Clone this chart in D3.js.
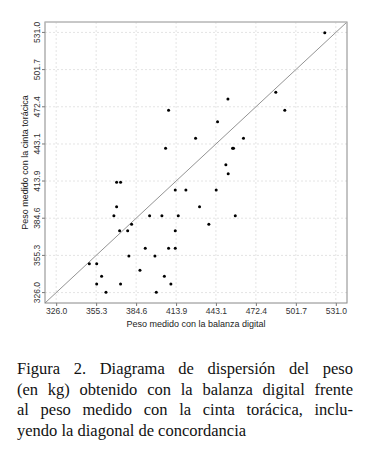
<!DOCTYPE html>
<html>
<head>
<meta charset="utf-8">
<script src="https://cdn.jsdelivr.net/npm/d3@7"></script>
<style>
    body { margin: 0; background: #fff; }
    #chart { position: relative; width: 370px; height: 459px; }
    .caption-line {
        position: absolute;
        left: 17px;
        width: 336px;
        font-family: 'Liberation Serif', 'Times New Roman', serif;
        font-size: 16.5px;
        color: #111;
        white-space: nowrap;
        text-align: justify;
        text-align-last: justify;
    }
    .caption-line.last { text-align-last: left; }
</style>
</head>
<body>
<div id="chart"></div>
<script>
// peso con la balanza digital (eje x) y con la cinta toracica (eje y), kg
let pesoBalanza = [451.9, 408.4, 444.3, 428.2, 463.3, 406.2, 455.3, 456.0, 450.4, 452.1,
    370.3, 373.2, 413.3, 421.1, 443.3, 370.3, 431.1, 368.3, 394.5, 403.5,
    415.5, 457.3, 381.3, 437.9, 372.5, 378.4, 413.3, 391.3, 408.4, 413.3,
    379.3, 398.4, 350.3, 355.7, 387.4, 359.3, 405.3, 355.7, 373.2, 410.1,
    362.5, 399.4, 487.0, 493.6, 522.9];
let pesoCinta = [478.5, 469.6, 460.7, 447.6, 447.6, 439.7, 439.7, 439.7, 426.8, 419.7,
    412.9, 412.9, 406.8, 406.8, 406.8, 393.7, 393.7, 386.6, 386.6, 386.6,
    386.6, 386.6, 379.8, 379.8, 374.8, 374.8, 374.8, 360.9, 360.9, 360.9,
    354.8, 354.8, 348.8, 348.8, 343.6, 338.8, 338.8, 332.8, 332.8, 332.8,
    326.2, 326.2, 483.8, 469.7, 530.8];
let tickValues = [326.0, 355.3, 384.6, 413.9, 443.1, 472.4, 501.7, 531.0];
let xTitle = 'Peso medido con la balanza digital';
let yTitle = 'Peso medido con la cinta torácica';
let captionLines = [
    'Figura 2. Diagrama de dispersión del peso',
    '(en kg) obtenido con la balanza digital frente',
    'al peso medido con la cinta torácica, inclu-',
    'yendo la diagonal de concordancia'
];

let plot = {left: 45, right: 347, top: 22, bottom: 303};
let pad = (tickValues[tickValues.length - 1] - tickValues[0]) * 0.04;
let domain = [tickValues[0] - pad, tickValues[tickValues.length - 1] + pad];

let xScale = d3.scaleLinear().domain(domain).range([plot.left, plot.right]);
let yScale = d3.scaleLinear().domain(domain).range([plot.bottom, plot.top]);

let svg = d3.select('#chart')
    .append('svg')
    .attr('width', 370)
    .attr('height', 340)
    .style('position', 'absolute')
    .style('left', 0)
    .style('top', 0);

// cuadricula punteada
svg.append('g')
    .selectAll('line.vgrid')
    .data(tickValues)
    .enter()
    .append('line')
    .attr('x1', d => xScale(d)).attr('x2', d => xScale(d))
    .attr('y1', plot.top).attr('y2', plot.bottom)
    .attr('stroke', '#e4e4e4')
    .attr('stroke-dasharray', '2,2');
svg.append('g')
    .selectAll('line.hgrid')
    .data(tickValues)
    .enter()
    .append('line')
    .attr('y1', d => yScale(d)).attr('y2', d => yScale(d))
    .attr('x1', plot.left).attr('x2', plot.right)
    .attr('stroke', '#e4e4e4')
    .attr('stroke-dasharray', '2,2');

// diagonal de concordancia
svg.append('line')
    .attr('x1', xScale(domain[0])).attr('y1', yScale(domain[0]))
    .attr('x2', xScale(domain[1])).attr('y2', yScale(domain[1]))
    .attr('stroke', '#777')
    .attr('stroke-width', 0.8);

// ejes
let xAxis = svg.append('g')
    .attr('transform', 'translate(0,' + plot.bottom + ')')
    .call(d3.axisBottom(xScale).tickValues(tickValues).tickSize(3).tickFormat(d3.format('.1f')));
let yAxis = svg.append('g')
    .attr('transform', 'translate(' + plot.left + ',0)')
    .call(d3.axisLeft(yScale).tickValues(tickValues).tickSize(3).tickFormat(d3.format('.1f')));
[xAxis, yAxis].forEach(ax => {
    ax.select('.domain').remove();
    ax.selectAll('line').attr('stroke', '#777');
    ax.selectAll('text')
        .attr('fill', '#333')
        .style('font-family', 'Liberation Sans, Arial, sans-serif')
        .style('font-size', '8.5px');
});
xAxis.selectAll('text').attr('y', 5);
yAxis.selectAll('text')
    .attr('text-anchor', 'middle')
    .attr('x', null)
    .attr('dy', null)
    .attr('transform', d => 'translate(-5,' + yScale(d) + ') rotate(-90)')
    .attr('y', 0);
yAxis.selectAll('.tick').attr('transform', null);
yAxis.selectAll('.tick line')
    .attr('y1', d => yScale(d)).attr('y2', d => yScale(d));

// marco
svg.append('rect')
    .attr('x', plot.left).attr('y', plot.top)
    .attr('width', plot.right - plot.left)
    .attr('height', plot.bottom - plot.top)
    .attr('fill', 'none')
    .attr('stroke', '#888');
svg.append('line')
    .attr('x1', plot.left).attr('x2', plot.right)
    .attr('y1', plot.top).attr('y2', plot.top)
    .attr('stroke', '#ccc');

// puntos
svg.append('g')
    .selectAll('circle')
    .data(pesoBalanza.map((d, i) => [d, pesoCinta[i]]))
    .enter()
    .append('circle')
    .attr('cx', d => xScale(d[0]))
    .attr('cy', d => yScale(d[1]))
    .attr('r', 1.5)
    .attr('fill', '#000');

// titulos de ejes
svg.append('text')
    .attr('x', (plot.left + plot.right) / 2)
    .attr('y', 327)
    .attr('text-anchor', 'middle')
    .attr('fill', '#222')
    .style('font-family', 'Liberation Sans, Arial, sans-serif')
    .style('font-size', '9px')
    .text(xTitle);
svg.append('text')
    .attr('transform', 'translate(28,' + (plot.top + plot.bottom) / 2 + ') rotate(-90)')
    .attr('text-anchor', 'middle')
    .attr('fill', '#222')
    .style('font-family', 'Liberation Sans, Arial, sans-serif')
    .style('font-size', '9px')
    .text(yTitle);

// pie de figura
let baselines = [374, 394.5, 415, 435.5];
d3.select('#chart')
    .selectAll('div.caption-line')
    .data(captionLines)
    .enter()
    .append('div')
    .attr('class', (d, i) => i === captionLines.length - 1 ? 'caption-line last' : 'caption-line')
    .style('top', (d, i) => (baselines[i] - 15) + 'px')
    .style('line-height', '19px')
    .text(d => d);
</script>
</body>
</html>
